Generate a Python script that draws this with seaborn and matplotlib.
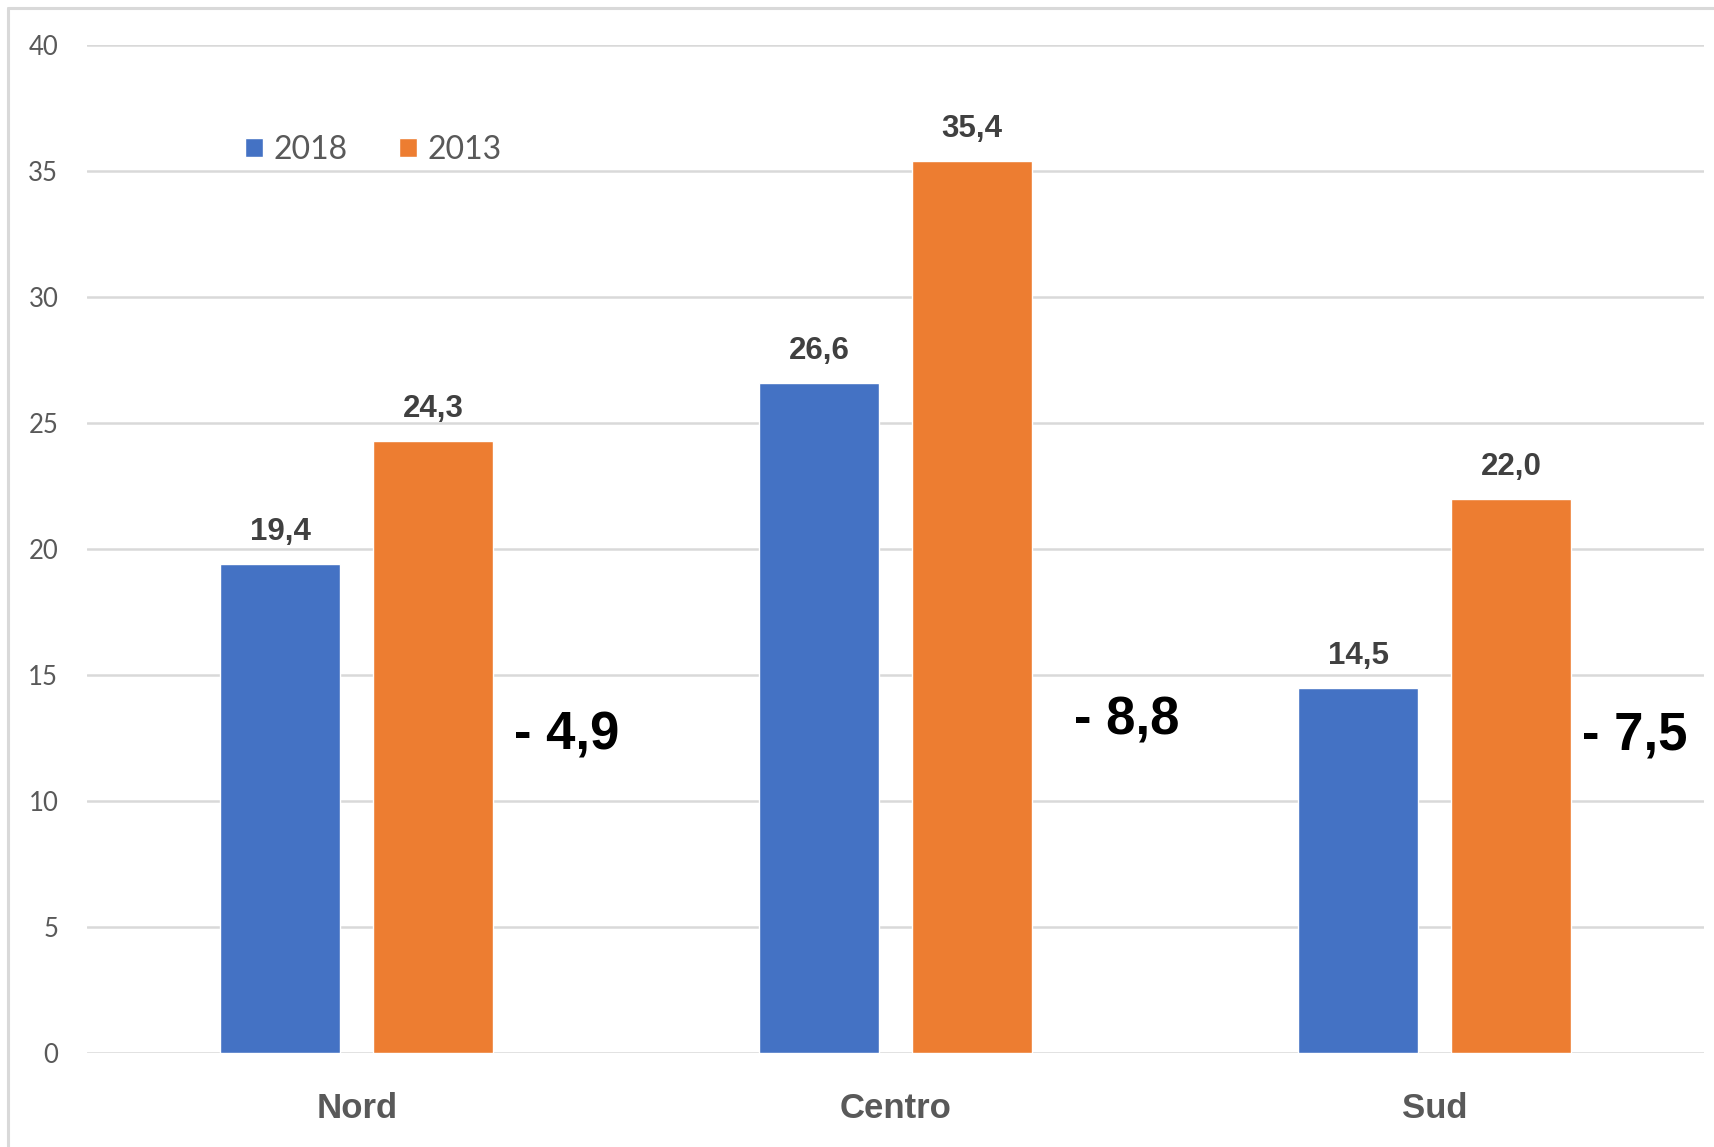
import matplotlib
matplotlib.use("Agg")
import matplotlib.pyplot as plt
from matplotlib.lines import Line2D
import seaborn as sns
import pandas as pd

categories = ["Nord", "Centro", "Sud"]
years = ["2018", "2013"]
values_2018 = [19.4, 26.6, 14.5]
values_2013 = [24.3, 35.4, 22.0]
y_ticks = [0, 5, 10, 15, 20, 25, 30, 35, 40]

df = pd.DataFrame({
    "area": categories * 2,
    "anno": [years[0]] * 3 + [years[1]] * 3,
    "valore": values_2018 + values_2013,
})

sns.set_theme(style="white")
plt.rcParams["font.family"] = ["Lato", "DejaVu Sans"]

W, H = 1715, 1147
fig = plt.figure(figsize=(W / 100, H / 100), dpi=100)
ax = fig.add_axes([87.5 / W, 1 - 1053 / H, (1704 - 87.5) / W, (1053 - 45) / H])

palette = {"2018": "#4472C4", "2013": "#ED7D31"}
sns.barplot(data=df, x="area", y="valore", hue="anno", hue_order=years,
            order=categories, palette=palette, width=0.568, gap=0.215,
            saturation=1, ax=ax, zorder=3, legend=True)

ax.set_xlim(-0.5, 2.5)
ax.set_ylim(0, 40)
ax.set_yticks(y_ticks)
ax.set_yticklabels([str(t) for t in y_ticks])
ax.yaxis.grid(True, color="#d9d9d9", linewidth=1.8, zorder=0)
ax.xaxis.grid(False)
ax.set_axisbelow(True)
for s in ax.spines.values():
    s.set_visible(False)
ax.set_xlabel("")
ax.set_ylabel("")

ax.tick_params(axis="y", length=0, pad=21, labelsize=18.5, labelcolor="#595959")
ax.tick_params(axis="x", length=0, pad=28)
narrow = ["Liberation Sans Narrow", "Liberation Sans", "DejaVu Sans"]
for lab in ax.get_xticklabels():
    lab.set_fontfamily(narrow)
    lab.set_fontweight("bold")
    lab.set_fontsize(25)
    lab.set_color("#595959")

def fmt(v):
    return f"{v:.1f}".replace(".", ",")

for cont in ax.containers:
    vals = [r.get_height() for r in cont]
    ax.bar_label(cont, labels=[fmt(v) for v in vals], padding=12,
                 fontsize=22.5, fontweight="bold", color="#404040",
                 family=narrow)

# difference annotations
diff_pos = [(0.389, 12.6), (1.429, 13.2), (2.372, 12.6)]
for (x, y), a, b in zip(diff_pos, values_2018, values_2013):
    d = a - b
    ax.text(x, y, "- " + fmt(abs(d)), ha="center", va="center",
            fontsize=38, fontweight="bold", color="black", family=narrow)

handles, labels = ax.get_legend_handles_labels()
ax.legend(handles, labels, loc="center left",
          bbox_to_anchor=(229 / W, 1 - 150 / H), bbox_transform=fig.transFigure,
          ncol=2, frameon=False, fontsize=23, handlelength=0.55,
          handleheight=0.55, handletextpad=0.35, columnspacing=1.6,
          borderpad=0, labelcolor="#595959")

# outer chart border (top and left)
fig.add_artist(Line2D([8 / W, 8 / W], [0, 1 - 8 / H], transform=fig.transFigure,
                      color="#d9d9d9", lw=2.2))
fig.add_artist(Line2D([8 / W, 1], [1 - 8 / H, 1 - 8 / H], transform=fig.transFigure,
                      color="#d9d9d9", lw=2.2))

fig.savefig("out.png", dpi=100)
